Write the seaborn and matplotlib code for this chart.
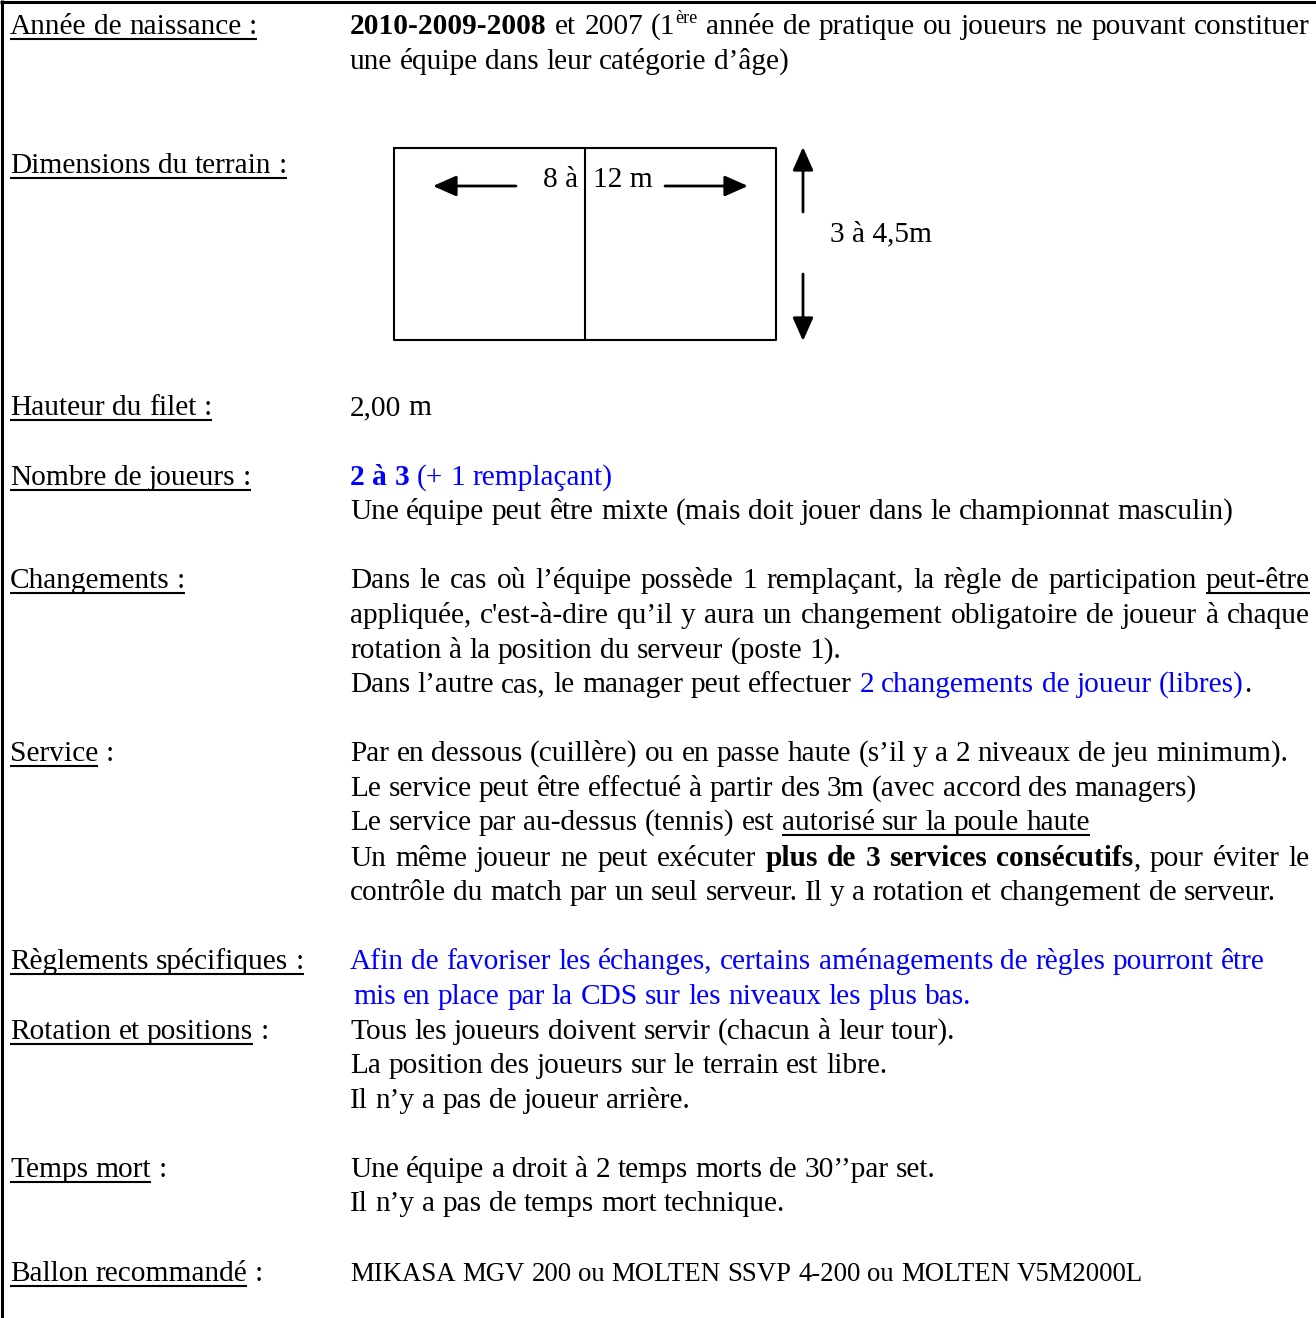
import matplotlib
matplotlib.use('Agg')
import matplotlib.pyplot as plt
import seaborn as sns

sns.set_theme(style='white')
plt.rcParams['font.family'] = ['Liberation Serif', 'DejaVu Serif']
plt.rcParams['text.color'] = 'black'

W, H = 1316, 1318
FS = 21.2
FS_SMALL = 19.3
BLUE = '#0000ff'

# section titles: (underlined part, plain tail)
labels = [
    ("Année de naissance :", ""),
    ("Dimensions du terrain :", ""),
    ("Hauteur du filet :", ""),
    ("Nombre de joueurs :", ""),
    ("Changements :", ""),
    ("Service", " :"),
    ("Règlements spécifiques :", ""),
    ("Rotation et positions", " :"),
    ("Temps mort", " :"),
    ("Ballon recommandé", " :"),
]

# text of each section, as lines of (text, style) pieces
# n normal, b bold, B blue, Bb blue bold, u underlined, s superscript
annee = [
    [("2010-2009-2008", 'b'), (" et 2007 (1", 'n'), ("ère", 's'),
     (" année de pratique ou joueurs ne pouvant constituer", 'n')],
    [("une équipe dans leur catégorie d’âge)", 'n')],
]
terrain = []
filet = [[("2,00 m", 'n')]]
joueurs = [
    [("2 à 3", 'Bb'), (" (+ 1 remplaçant)", 'B')],
    [("Une équipe peut être mixte (mais doit jouer dans le championnat masculin)", 'n')],
]
changements = [
    [("Dans le cas où l’équipe possède 1 remplaçant, la règle de participation ", 'n'), ("peut-être", 'u')],
    [("appliquée, c'est-à-dire qu’il y aura un changement obligatoire de joueur à chaque", 'n')],
    [("rotation à la position du serveur (poste 1).", 'n')],
    [("Dans l’autre cas, le manager peut effectuer ", 'n'), ("2 changements de joueur (libres)", 'B'), (".", 'n')],
]
service = [
    [("Par en dessous (cuillère) ou en passe haute (s’il y a 2 niveaux de jeu minimum).", 'n')],
    [("Le service peut être effectué à partir des 3m (avec accord des managers)", 'n')],
    [("Le service par au-dessus (tennis) est ", 'n'), ("autorisé sur la poule haute", 'u')],
    [("Un même joueur ne peut exécuter ", 'n'), ("plus de 3 services consécutifs", 'b'), (", pour éviter le", 'n')],
    [("contrôle du match par un seul serveur. Il y a rotation et changement de serveur.", 'n')],
]
reglements = [
    [("Afin de favoriser les échanges, certains aménagements de règles pourront être", 'B')],
    [("mis en place par la CDS sur les niveaux les plus bas.", 'B')],
]
rotation = [
    [("Tous les joueurs doivent servir (chacun à leur tour).", 'n')],
    [("La position des joueurs sur le terrain est libre.", 'n')],
    [("Il n’y a pas de joueur arrière.", 'n')],
]
temps = [
    [("Une équipe a droit à 2 temps morts de 30’’par set.", 'n')],
    [("Il n’y a pas de temps mort technique.", 'n')],
]
ballon = [[("MIKASA MGV 200 ou MOLTEN SSVP 4-200 ou MOLTEN V5M2000L", 'n')]]

court_width = "8 à 12 m"
court_depth = "3 à 4,5m"

bodies = [annee, terrain, filet, joueurs, changements, service, reglements, rotation, temps, ballon]

# layout (pixel baselines)
label_y = [34, 173, 415, 485, 588, 761, 969, 1039, 1177, 1281]
body_y = [[34, 69], [], [415], [485, 519], [588, 623, 658, 692],
          [761, 796, 830, 866, 900], [969, 1004], [1039, 1073, 1108], [1177, 1211], [1281]]
justified = {(0, 0), (4, 0), (4, 1), (5, 3)}
indent = {(6, 1): 3}
LX, BX, RIGHT = 10, 350, 1310

fig = plt.figure(figsize=(W / 100, H / 100), dpi=100)
ax = fig.add_axes([0, 0, 1, 1])
ax.set_xlim(0, W)
ax.set_ylim(H, 0)
ax.axis('off')
sns.despine(ax=ax, left=True, bottom=True)
renderer = fig.canvas.get_renderer()


def props(st, size):
    weight = 'bold' if 'b' in st else 'normal'
    color = BLUE if 'B' in st else 'black'
    if st == 's':
        size = size * 0.62
    return size, weight, color


def text_width(s, size, weight):
    t1 = ax.text(0, 0, '|' + s + '|', fontsize=size, fontweight=weight)
    t2 = ax.text(0, 0, '||', fontsize=size, fontweight=weight)
    w = t1.get_window_extent(renderer).width - t2.get_window_extent(renderer).width
    t1.remove()
    t2.remove()
    return w


def draw_line(x, y, segs, size=FS, right=None):
    items = []
    gap = False
    for text, st in segs:
        for i, p in enumerate(text.split(' ')):
            if i > 0:
                gap = True
            if p:
                items.append((p, st, gap))
                gap = False
    space = text_width(' ', size, 'normal')
    widths = [text_width(p, *props(st, size)[:2]) for p, st, g in items]
    ngaps = sum(1 for it in items if it[2])
    extra = 0
    if right is not None and ngaps:
        extra = max(0, (right - x - sum(widths) - space * ngaps) / ngaps)
    cx = x
    prev_u = False
    for (p, st, g), w in zip(items, widths):
        start_gap = cx
        if g:
            cx += space + extra
        sz, wt, col = props(st, size)
        yy = y - 11 if st == 's' else y
        ax.text(cx, yy, p, fontsize=sz, fontweight=wt, color=col, va='baseline', ha='left')
        if 'u' in st:
            x0 = start_gap if (g and prev_u) else cx
            ax.plot([x0, cx + w], [y + 5, y + 5], color=col, lw=1.5, solid_capstyle='butt')
        prev_u = 'u' in st
        cx += w


for i, (lab, tail) in enumerate(labels):
    draw_line(LX, label_y[i], [(lab, 'u'), (tail, 'n')])
    for j, line in enumerate(bodies[i]):
        size = FS_SMALL if i == 9 else FS
        right = RIGHT if (i, j) in justified else None
        draw_line(BX + indent.get((i, j), 0), body_y[i][j], line, size=size, right=right)

# court drawing
ax.plot([394, 776, 776, 394, 394], [148, 148, 340, 340, 148], color='black', lw=1.5)
ax.plot([585, 585], [148, 340], color='black', lw=1.5)
left_txt, right_txt = court_width.split(' à ')
ax.text(578, 187, left_txt + ' à', fontsize=FS, ha='right', va='baseline')
ax.text(593, 187, right_txt, fontsize=FS, ha='left', va='baseline')
ax.text(830, 241, court_depth, fontsize=FS, ha='left', va='baseline')
arrow = dict(arrowstyle='-|>,head_length=0.95,head_width=0.42', lw=2, color='black',
             shrinkA=0, shrinkB=0, mutation_scale=15)
ax.annotate('', xy=(433, 186), xytext=(516, 186), arrowprops=arrow)
ax.annotate('', xy=(748, 186), xytext=(665, 186), arrowprops=arrow)
ax.annotate('', xy=(803, 147), xytext=(803, 212), arrowprops=arrow)
ax.annotate('', xy=(803, 341), xytext=(803, 274), arrowprops=arrow)

# page borders
ax.plot([0, W], [1.5, 1.5], color='black', lw=2.2, solid_capstyle='butt')
ax.plot([1.5, 1.5], [0, H], color='black', lw=2.2, solid_capstyle='butt')

fig.savefig('out.png', dpi=100, facecolor='white')
